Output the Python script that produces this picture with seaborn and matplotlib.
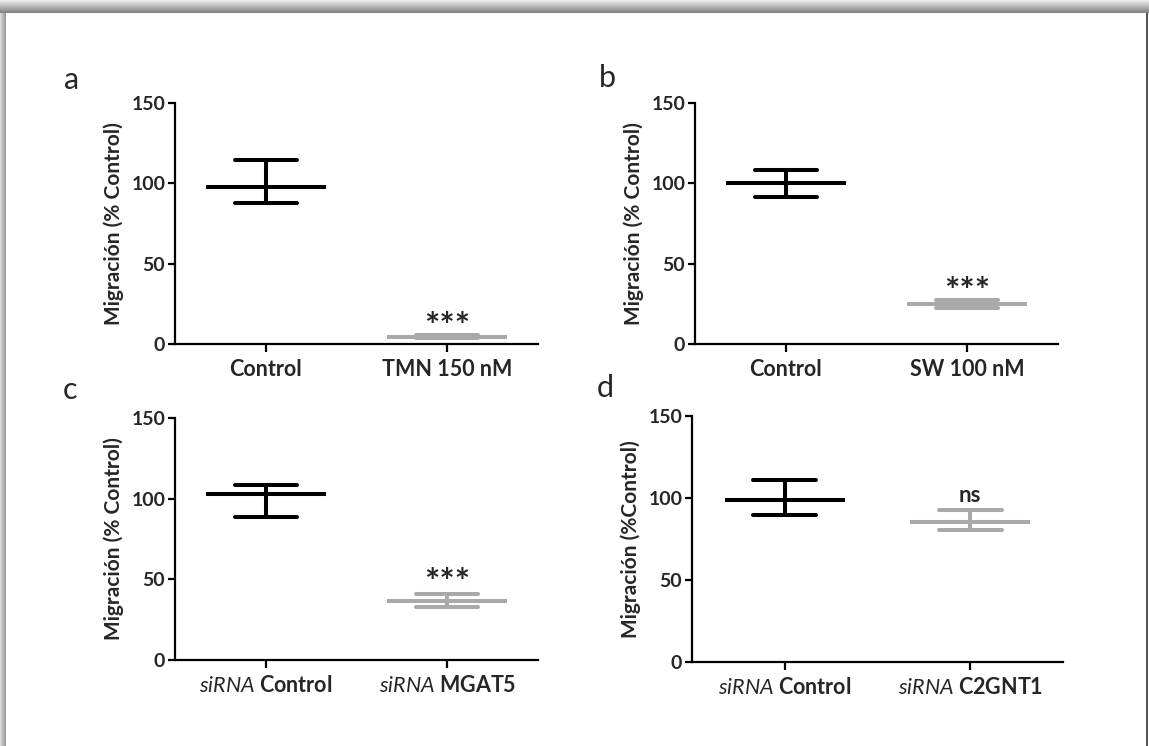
import matplotlib
matplotlib.use("Agg")
import matplotlib.pyplot as plt
from matplotlib.patches import Rectangle
import pandas as pd
import seaborn as sns

sns.set_style("ticks")
plt.rcParams['font.family'] = ['Lato', 'DejaVu Sans']
plt.rcParams['mathtext.fontset'] = 'custom'
plt.rcParams['mathtext.rm'] = 'Lato'
plt.rcParams['mathtext.it'] = 'Lato:italic'
plt.rcParams['mathtext.bf'] = 'Lato:bold'

NEGRO = '#000000'
GRIS = '#a9a9a9'

# datos (media, limite inferior y superior de la barra de error)
a_grupos = ['Control', 'TMN 150 nM']
a_media = [98.0, 4.5]
a_inf = [87.5, 3.5]
a_sup = [114.5, 5.5]

b_grupos = ['Control', 'SW 100 nM']
b_media = [100.0, 25.0]
b_inf = [91.7, 22.2]
b_sup = [108.3, 27.4]

c_grupos = [r'$\mathit{siRNA}$ Control', r'$\mathit{siRNA}$ MGAT5']
c_media = [103.0, 36.5]
c_inf = [88.5, 32.6]
c_sup = [108.3, 40.9]

d_grupos = [r'$\mathit{siRNA}$ Control', r'$\mathit{siRNA}$ C2GNT1']
d_media = [98.7, 85.5]
d_inf = [89.6, 80.4]
d_sup = [110.9, 92.6]

letras = ['a', 'b', 'c', 'd']
signif = ['***', '***', '***', 'ns']
signif_y = [10.5, 32.0, 47.5, 101.8]
ylabels = ['Migración (% Control)', 'Migración (% Control)',
           'Migración (% Control)', 'Migración (%Control)']

paneles = [
    (a_grupos, a_media, a_inf, a_sup),
    (b_grupos, b_media, b_inf, b_sup),
    (c_grupos, c_media, c_inf, c_sup),
    (d_grupos, d_media, d_inf, d_sup),
]

W, H = 1149, 746
fig = plt.figure(figsize=(W / 100, H / 100), dpi=100)

# sombra del marco
for i in range(13):
    g = 0.93 - 0.035 * i
    fig.patches.append(Rectangle((0, 1 - (i + 1) / H), 1, 1 / H, transform=fig.transFigure,
                                 facecolor=(g, g, g), edgecolor='none', zorder=-5))
for i in range(6):
    g = 0.85 - 0.05 * i
    fig.patches.append(Rectangle((i / W, 0), 1 / W, 1 - 13 / H, transform=fig.transFigure,
                                 facecolor=(g, g, g), edgecolor='none', zorder=-5))
fig.patches.append(Rectangle((1146 / W, 0), 2 / W, 1 - 13 / H, transform=fig.transFigure,
                             facecolor='#555555', edgecolor='none', zorder=-5))

# posiciones de los ejes en pixeles (izq, arriba, der, abajo)
cajas = [(175, 103, 538, 344), (695, 103, 1058, 344),
         (175, 418, 538, 660), (692, 416, 1063, 662)]
letra_pos = [(72, 80), (607, 78), (70, 390), (605, 388)]

for k, (grupos, media, inf, sup) in enumerate(paneles):
    x0, y0, x1, y1 = cajas[k]
    ax = fig.add_axes([x0 / W, 1 - y1 / H, (x1 - x0) / W, (y1 - y0) / H])
    filas = []
    for g, m, lo, hi in zip(grupos, media, inf, sup):
        for v in (lo, m, hi):
            filas.append({'grupo': g, 'valor': v})
    df = pd.DataFrame(filas)
    sns.pointplot(data=df, x='grupo', y='valor', hue='grupo', palette=[NEGRO, GRIS],
                  estimator='median', errorbar=lambda v: (v.min(), v.max()),
                  capsize=0.34, marker='_', markersize=87, markeredgewidth=2.9,
                  linestyle='none', err_kws={'linewidth': 2.9}, legend=False, ax=ax)
    ax.set_xlim(-0.5, 1.5)
    ax.set_ylim(0, 150)
    ax.set_yticks([0, 50, 100, 150])
    ax.set_yticklabels(['0', '50', '100', '150'], fontweight='bold', fontsize=14)
    ax.set_xticks([0, 1])
    ax.set_xticklabels(grupos, fontweight='bold', fontsize=15.5)
    ax.set_xlabel('')
    ax.set_ylabel(ylabels[k], fontweight='bold', fontsize=15, labelpad=5)
    sns.despine(ax=ax)
    for s in ['left', 'bottom']:
        ax.spines[s].set_linewidth(1.6)
        ax.spines[s].set_color('black')
    ax.tick_params(axis='both', width=1.6, length=5, color='black', pad=2)
    ax.tick_params(axis='x', length=6, pad=5)
    ax.patch.set_alpha(0)
    ax.text(1, signif_y[k], signif[k], ha='center', va='center',
            fontsize=26 if signif[k] == '***' else 16, fontweight='bold')
    lx, ly = letra_pos[k]
    fig.text(lx / W, 1 - ly / H, letras[k], ha='center', va='center', fontsize=22)

fig.savefig('out.png', dpi=100, facecolor='white')
